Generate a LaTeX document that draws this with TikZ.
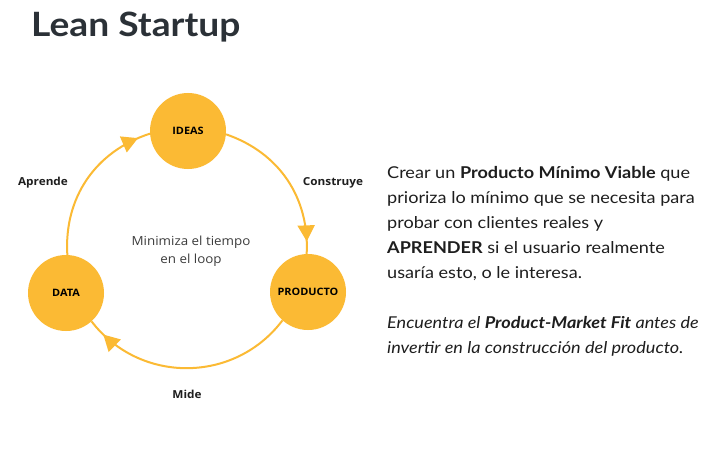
\documentclass[tikz,border=0pt]{standalone}
\usepackage{fontspec}
\setmainfont{Lato}[FakeStretch=1.11]
\newfontfamily\labelfont{Open Sans}[FakeStretch=1.07]
\usetikzlibrary{arrows.meta, decorations.markings}
\definecolor{leangold}{RGB}{251,186,52}
\definecolor{titlegray}{RGB}{43,49,55}
\definecolor{textdark}{RGB}{30,30,30}
\definecolor{notegray}{RGB}{60,60,60}

\begin{document}
\begin{tikzpicture}[x=1pt, y=1pt, every node/.style={inner sep=0pt}]
  % Styles
  \tikzstyle{stage} = [circle, fill=leangold, minimum size=76pt, font=\labelfont\bfseries\fontsize{10.2}{12}\selectfont, text=black]
  \tikzstyle{cycleline} = [draw=leangold, line width=2pt, postaction={decorate}, decoration={markings, mark=at position 0.92 with {\arrow{Triangle[length=16pt, width=17pt]}}}]
  \tikzstyle{steplabel} = [font=\labelfont\bfseries\fontsize{11}{13}\selectfont, text=textdark]

  \path [use as bounding box, fill=white] (0,0) rectangle (709,448);

  % Title
  \node (title) [anchor=base west, font=\bfseries\fontsize{33.5}{40}\selectfont, text=titlegray] at (31,411) {Lean Startup};

  % Build - Measure - Learn loop
  \node (ideas) [stage] at (188,317) {IDEAS};
  \node (producto) [stage] at (308,156) {PRODUCTO};
  \node (data) [stage] at (66,155) {DATA};

  \draw [cycleline] (data.88) to[out=93.5, in=198] (ideas.184);
  \draw [cycleline] (ideas.355) to[out=-19, in=87] (producto.92);
  \draw [cycleline, looseness=1.06] (producto.228) to[out=233, in=307.5] (data.312.6);

  \node (aprende) [steplabel] at (43,265) {Aprende};
  \node (construye) [steplabel] at (333,265) {Construye};
  \node (mide) [steplabel] at (187,54) {Mide};
  \node (note) [align=center, font=\labelfont\fontsize{12.5}{18}\selectfont, text=notegray] at (191,197) {Minimiza el tiempo\\ en el loop};

  % Explanation
  \node (pitch) [anchor=north west, align=left, font=\fontsize{16.3}{25}\selectfont, text=textdark] at (387,282) {Crear un \textbf{Producto Mínimo Viable} que\\ prioriza lo mínimo que se necesita para\\ probar con clientes reales y\\ \textbf{APRENDER} si el usuario realmente\\ usaría esto, o le interesa.\\[25pt] \itshape Encuentra el \textbf{Product-Market Fit} antes de\\ \itshape invertir en la construcción del producto.};
\end{tikzpicture}
\end{document}
